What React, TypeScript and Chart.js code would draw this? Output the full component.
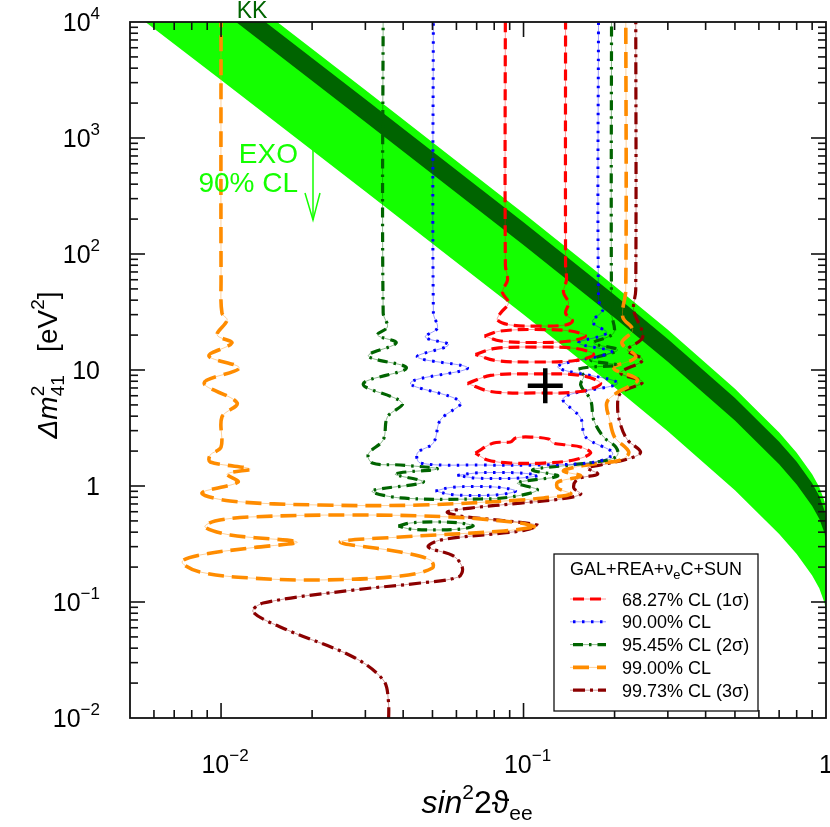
import React, { useEffect, useRef } from 'react';
import { Chart, registerables } from 'chart.js';

Chart.register(...registerables);

const FONT = '"Liberation Sans", Arial, Helvetica, sans-serif';

// ---------- axes ----------
const X_MIN = 0.005;
const X_MAX = 1;
const Y_MIN = 0.01;
const Y_MAX = 10000;

const xTickValues = [0.01, 0.1, 1];
const xTickBase = ['10', '10', '1'];
const xTickExp = ['\u22122', '\u22121', ''];
const yTickValues = [10000, 1000, 100, 10, 1, 0.1, 0.01];
const yTickBase = ['10', '10', '10', '10', '1', '10', '10'];
const yTickExp = ['4', '3', '2', '', '', '\u22121', '\u22122'];

// ---------- EXO and KK bands (log10 of Δm² at each sin²2θ) ----------
const bandSin2 = [0.005, 0.01, 0.03, 0.1, 0.2, 0.3, 0.5, 0.7, 0.8, 0.9, 0.95, 0.99, 1];
const exoUpperLog = [4.976, 4.374, 3.413, 2.352, 1.725, 1.346, 0.838, 0.461, 0.287, 0.102, -0.008, -0.136, -0.228];
const exoLowerLog = [4.102, 3.5, 2.539, 1.478, 0.851, 0.472, -0.036, -0.413, -0.587, -0.772, -0.882, -1.01, -1.102];
const kkUpperLog = [4.897, 4.295, 3.334, 2.273, 1.646, 1.267, 0.759, 0.382, 0.208, 0.023, -0.087, -0.215, -0.307];
const kkLowerLog = [4.702, 4.1, 3.139, 2.078, 1.451, 1.072, 0.564, 0.187, 0.013, -0.172, -0.282, -0.41, -0.502];

// ---------- contours: [log10 sin²2θ, log10 Δm²] ----------
const cl6827Main = [
  [-1.06, 4.3], [-1.06, 1.905], [-1.053, 1.776], [-1.07, 1.672], [-1.05, 1.578], [-1.076, 1.491], [-1.086, 1.431],
  [-1.043, 1.388], [-0.944, 1.379], [-0.861, 1.388], [-0.838, 1.422], [-0.861, 1.491], [-0.851, 1.578],
  [-0.868, 1.672], [-0.858, 1.776], [-0.861, 1.905], [-0.861, 4.3],
];
const cl6827Island1 = [[-1.129, 1.293], [-1.076, 1.336], [-0.96, 1.349], [-0.844, 1.336], [-0.795, 1.293], [-0.844, 1.25], [-0.96, 1.237], [-1.076, 1.25]];
const cl6827Island2 = [[-1.159, 1.134], [-1.093, 1.186], [-0.96, 1.198], [-0.828, 1.186], [-0.768, 1.134], [-0.828, 1.082], [-0.96, 1.069], [-1.093, 1.082]];
const cl6827Island3 = [[-1.185, 0.884], [-1.109, 0.953], [-0.96, 0.966], [-0.811, 0.953], [-0.745, 0.884], [-0.811, 0.815], [-0.96, 0.802], [-1.109, 0.815]];
const cl6827Island4 = [
  [-1.159, 0.284], [-1.099, 0.371], [-1.043, 0.379], [-1.026, 0.414], [-0.977, 0.422], [-0.917, 0.405], [-0.904, 0.371],
  [-0.854, 0.353], [-0.811, 0.336], [-0.778, 0.284], [-0.834, 0.224], [-0.934, 0.198], [-1.043, 0.198], [-1.119, 0.224],
];

const cl9000Main = [
  [-1.298, 4.3], [-1.298, 1.491], [-1.285, 1.362], [-1.325, 1.284], [-1.248, 1.216], [-1.351, 1.112], [-1.185, 1.017],
  [-1.374, 0.888], [-1.209, 0.724], [-1.275, 0.569], [-1.298, 0.371], [-1.351, 0.284], [-1.341, 0.198], [-1.142, 0.181],
  [-0.944, 0.181], [-0.762, 0.207], [-0.705, 0.284], [-0.795, 0.422], [-0.811, 0.586], [-0.868, 0.759], [-0.689, 0.888],
  [-0.887, 1.026], [-0.709, 1.155], [-0.818, 1.233], [-0.725, 1.319], [-0.772, 1.414], [-0.738, 1.517], [-0.752, 1.603],
  [-0.752, 4.3],
];
const cl9000Island1 = [[-1.219, 0.091], [-1.159, 0.112], [-1.086, 0.116], [-1.01, 0.112], [-0.954, 0.091], [-1.01, 0.069], [-1.086, 0.065], [-1.159, 0.069]];
const cl9000Island2 = [[-1.291, -0.043], [-1.242, -0.013], [-1.159, -0.004], [-1.076, -0.013], [-1.026, -0.043], [-1.076, -0.073], [-1.159, -0.082], [-1.242, -0.073]];

const cl9545Main = [
  [-1.464, 4.3], [-1.464, 1.491], [-1.45, 1.371], [-1.483, 1.302], [-1.421, 1.233], [-1.513, 1.121], [-1.387, 1.017],
  [-1.53, 0.879], [-1.401, 0.716], [-1.45, 0.595], [-1.464, 0.397], [-1.513, 0.276], [-1.5, 0.198], [-1.407, 0.181],
  [-1.285, 0.147], [-1.424, 0.103], [-1.331, 0.034], [-1.5, -0.043], [-1.407, -0.103], [-1.142, -0.112], [-1.043, -0.095],
  [-0.954, -0.034], [-1.02, 0.026], [-0.887, 0.086], [-0.97, 0.138], [-0.844, 0.181], [-0.722, 0.224], [-0.689, 0.267],
  [-0.695, 0.336], [-0.735, 0.422], [-0.768, 0.569], [-0.778, 0.741], [-0.811, 0.871], [-0.801, 0.948], [-0.818, 1.009],
  [-0.689, 1.043], [-0.778, 1.086], [-0.689, 1.172], [-0.768, 1.233], [-0.702, 1.319], [-0.709, 1.491], [-0.709, 4.3],
];
const cl9545Island1 = [[-1.414, -0.345], [-1.374, -0.319], [-1.291, -0.31], [-1.209, -0.319], [-1.166, -0.345], [-1.209, -0.371], [-1.291, -0.379], [-1.374, -0.371]];

const cl9900Main = [
  [-2.0, 4.3], [-2.0, 1.776], [-1.997, 1.491], [-1.98, 1.431], [-2.013, 1.302], [-1.964, 1.233], [-2.04, 1.121],
  [-1.94, 1.017], [-2.056, 0.888], [-1.947, 0.716], [-1.997, 0.595], [-2.0, 0.336], [-2.036, 0.267], [-2.036, 0.207],
  [-1.904, 0.147], [-1.98, 0.103], [-1.944, 0.034], [-2.063, -0.06], [-1.97, -0.129], [-1.672, -0.164], [-1.341, -0.164],
  [-1.01, -0.121], [-0.934, -0.103], [-0.844, -0.069], [-0.887, -0.017], [-0.887, 0.034], [-0.811, 0.086], [-0.868, 0.129],
  [-0.828, 0.164], [-0.745, 0.198], [-0.679, 0.224], [-0.652, 0.293], [-0.699, 0.422], [-0.715, 0.569], [-0.725, 0.716],
  [-0.692, 0.802], [-0.623, 0.914], [-0.702, 1.017], [-0.629, 1.112], [-0.675, 1.233], [-0.639, 1.345], [-0.672, 1.457],
  [-0.662, 1.69], [-0.662, 4.3],
];
const cl9900Island1 = [
  [-0.96, -0.353], [-1.01, -0.319], [-1.242, -0.267], [-1.573, -0.25], [-1.904, -0.267], [-2.02, -0.302], [-2.053, -0.353],
  [-1.97, -0.422], [-1.748, -0.483], [-1.904, -0.534], [-2.07, -0.595], [-2.129, -0.655], [-2.07, -0.741], [-1.904, -0.793],
  [-1.672, -0.81], [-1.407, -0.776], [-1.301, -0.707], [-1.308, -0.638], [-1.407, -0.569], [-1.606, -0.483], [-1.407, -0.44],
  [-1.066, -0.388],
];

const cl9973Main = [
  [-0.629, 4.3], [-0.629, 1.69], [-0.636, 1.517], [-0.606, 1.284], [-0.656, 1.172], [-0.606, 1.086], [-0.679, 0.974],
  [-0.606, 0.897], [-0.679, 0.802], [-0.689, 0.681], [-0.679, 0.526], [-0.656, 0.397], [-0.613, 0.293], [-0.646, 0.241],
  [-0.745, 0.181], [-0.788, 0.155], [-0.755, 0.103], [-0.821, 0.06], [-0.834, -0.017], [-0.811, -0.069], [-0.877, -0.112],
  [-1.01, -0.147], [-1.175, -0.19], [-1.252, -0.224], [-1.209, -0.259], [-0.954, -0.336], [-0.993, -0.379], [-1.066, -0.405],
  [-1.275, -0.466], [-1.315, -0.526], [-1.232, -0.603], [-1.202, -0.707], [-1.215, -0.784], [-1.341, -0.836], [-1.563, -0.897],
  [-1.861, -1.009], [-1.894, -1.086], [-1.781, -1.241], [-1.563, -1.474], [-1.464, -1.672], [-1.447, -1.845], [-1.447, -2.103],
];

// best fit point
const bestFitSin2 = 0.118;
const bestFitDm2 = 7.3;

// legend
const legendTitle = ['GAL+REA+\u03bd', 'e', 'C+SUN'];
const clLabels = ['68.27% CL (1\u03c3)', '90.00% CL', '95.45% CL (2\u03c3)', '99.00% CL', '99.73% CL (3\u03c3)'];

// styles
const LIGHT_GREEN = '#14ff00';
const DARK_GREEN = '#006400';
const clStyles = [
  { color: '#ff0000', ghost: 'rgba(255,0,0,0.4)', dash: [11, 6], width: 3.2 },
  { color: '#0000ff', ghost: 'rgba(0,0,255,0.4)', dash: [2.5, 6.5], width: 3 },
  { color: '#006400', ghost: 'rgba(0,100,0,0.45)', dash: [10, 6, 2.5, 6], width: 3.2 },
  { color: '#ff8c00', ghost: 'rgba(255,140,0,0.4)', dash: [16, 8], width: 3.6 },
  { color: '#8b0000', ghost: 'rgba(139,0,0,0.4)', dash: [12, 5, 3, 5], width: 3.2 },
];
const clPaths = [
  { main: cl6827Main, islands: [cl6827Island1, cl6827Island2, cl6827Island3, cl6827Island4] },
  { main: cl9000Main, islands: [cl9000Island1, cl9000Island2] },
  { main: cl9545Main, islands: [cl9545Island1] },
  { main: cl9900Main, islands: [cl9900Island1] },
  { main: cl9973Main, islands: [] as number[][][] },
];

const toPts = (arr: number[][], close = false) => {
  const r = arr.map(([lx, ly]) => ({ x: Math.pow(10, lx), y: Math.pow(10, ly) }));
  if (close) r.push({ ...r[0] });
  return r;
};
const bandPts = (logs: number[]) => bandSin2.map((x, i) => ({ x, y: Math.pow(10, logs[i]) }));

function buildDatasets() {
  const ds: any[] = [];
  const add = (d: any) =>
    ds.push({ pointRadius: 0, pointHoverRadius: 0, clip: 0, fill: false, tension: 0.35, borderCapStyle: 'butt', ...d });
  const tr = 'rgba(0,0,0,0)';
  add({ data: bandPts(exoUpperLog), borderColor: tr, borderWidth: 1, backgroundColor: LIGHT_GREEN, fill: '+1', tension: 0 });
  add({ data: bandPts(exoLowerLog), borderColor: tr, borderWidth: 1, tension: 0 });
  add({ data: bandPts(kkUpperLog), borderColor: tr, borderWidth: 1, backgroundColor: DARK_GREEN, fill: '+1', tension: 0 });
  add({ data: bandPts(kkLowerLog), borderColor: tr, borderWidth: 1, tension: 0 });
  for (let c = clPaths.length - 1; c >= 0; c--) {
    const st = clStyles[c];
    const paths = [{ p: clPaths[c].main, close: false }, ...clPaths[c].islands.map((p) => ({ p, close: true }))];
    for (const { p, close } of paths) {
      const data = toPts(p, close);
      add({ data, borderColor: st.ghost, borderWidth: 1 });
      add({ data, borderColor: st.color, borderWidth: st.width, borderDash: st.dash });
    }
  }
  add({
    data: [{ x: bestFitSin2, y: bestFitDm2 }],
    showLine: false,
    pointStyle: 'cross',
    pointRadius: 17.5,
    pointHoverRadius: 17.5,
    pointBorderWidth: 4.5,
    pointBorderColor: '#000',
    borderColor: '#000',
  });
  const n = ds.length;
  ds.forEach((d, i) => (d.order = n - i));
  return ds;
}

type Part = { t: string; size: number; italic?: boolean; dy?: number; adv?: boolean };
function drawParts(ctx: CanvasRenderingContext2D, parts: Part[], x: number, y: number, align: 'left' | 'center' | 'right') {
  const fontOf = (p: Part) => `${p.italic ? 'italic ' : ''}${p.size}px ${FONT}`;
  const widths = parts.map((p) => {
    ctx.font = fontOf(p);
    return ctx.measureText(p.t).width;
  });
  let total = 0;
  parts.forEach((p, i) => {
    if (p.adv !== false) total += widths[i];
  });
  let cx = align === 'left' ? x : align === 'center' ? x - total / 2 : x - total;
  ctx.textAlign = 'left';
  ctx.textBaseline = 'alphabetic';
  parts.forEach((p, i) => {
    ctx.font = fontOf(p);
    ctx.fillText(p.t, cx, y + (p.dy || 0));
    if (p.adv !== false) cx += widths[i];
  });
}

const decorPlugin = {
  id: 'decor',
  afterDraw(chart: any) {
    const { ctx, chartArea: a, scales } = chart;
    const xs = scales.x;
    const ys = scales.y;
    ctx.save();
    ctx.strokeStyle = '#111';
    ctx.lineWidth = 1.6;
    const line = (x1: number, y1: number, x2: number, y2: number) => {
      ctx.beginPath();
      ctx.moveTo(x1, y1);
      ctx.lineTo(x2, y2);
      ctx.stroke();
    };
    // ticks
    for (let e = -3; e <= 0; e++) {
      for (let k = 1; k <= 9; k++) {
        const v = k * Math.pow(10, e);
        if (v <= X_MIN * 1.001 || v >= X_MAX * 0.999) continue;
        const px = xs.getPixelForValue(v);
        const len = k === 1 ? 15 : 8;
        line(px, a.bottom, px, a.bottom - len);
        line(px, a.top, px, a.top + len);
      }
    }
    for (let e = -2; e <= 4; e++) {
      for (let k = 1; k <= 9; k++) {
        const v = k * Math.pow(10, e);
        if (v <= Y_MIN * 1.001 || v >= Y_MAX * 0.999) continue;
        const py = ys.getPixelForValue(v);
        const len = k === 1 ? 15 : 8;
        line(a.left, py, a.left + len, py);
        line(a.right, py, a.right - len, py);
      }
    }
    ctx.lineWidth = 1.8;
    ctx.strokeRect(a.left, a.top, a.right - a.left, a.bottom - a.top);

    // tick labels
    ctx.fillStyle = '#000';
    yTickValues.forEach((v, i) => {
      const py = ys.getPixelForValue(v);
      const parts: Part[] = [{ t: yTickBase[i], size: 25 }];
      if (yTickExp[i]) parts.push({ t: yTickExp[i], size: 17, dy: -12 });
      drawParts(ctx, parts, 100, py + 9, 'right');
    });
    xTickValues.forEach((v, i) => {
      const px = xs.getPixelForValue(v);
      const parts: Part[] = [{ t: xTickBase[i], size: 25 }];
      if (xTickExp[i]) parts.push({ t: xTickExp[i], size: 17, dy: -12 });
      drawParts(ctx, parts, px + (xTickExp[i] ? 4 : 0), 773, 'center');
    });

    // axis titles
    drawParts(
      ctx,
      [
        { t: 'sin', size: 32, italic: true },
        { t: '2', size: 21, dy: -14 },
        { t: '2\u03d1', size: 32 },
        { t: 'ee', size: 21, dy: 7 },
      ],
      477,
      813,
      'center'
    );
    ctx.save();
    ctx.translate(57, 365);
    ctx.rotate(-Math.PI / 2);
    drawParts(
      ctx,
      [
        { t: '\u0394m', size: 28, italic: true },
        { t: '2', size: 19, dy: -13, adv: false },
        { t: '41', size: 19, dy: 7 },
        { t: '   [eV', size: 28 },
        { t: '2', size: 19, dy: -13 },
        { t: ']', size: 28 },
      ],
      0,
      0,
      'center'
    );
    ctx.restore();

    // KK and EXO annotations
    ctx.fillStyle = DARK_GREEN;
    drawParts(ctx, [{ t: 'KK', size: 23 }], 252, 18, 'center');
    ctx.fillStyle = LIGHT_GREEN;
    drawParts(ctx, [{ t: 'EXO', size: 28 }], 298, 163, 'right');
    drawParts(ctx, [{ t: '90% CL', size: 28 }], 298, 192, 'right');
    ctx.strokeStyle = LIGHT_GREEN;
    ctx.lineWidth = 1.5;
    line(313, 150, 313, 220);
    ctx.beginPath();
    ctx.moveTo(305, 193);
    ctx.lineTo(313, 220);
    ctx.lineTo(320, 193);
    ctx.stroke();

    // legend
    const L = 554, T = 554, R = 758, B = 711;
    ctx.fillStyle = '#fff';
    ctx.fillRect(L, T, R - L, B - T);
    ctx.strokeStyle = '#111';
    ctx.lineWidth = 1.3;
    ctx.strokeRect(L, T, R - L, B - T);
    ctx.fillStyle = '#000';
    drawParts(
      ctx,
      [
        { t: legendTitle[0], size: 18 },
        { t: legendTitle[1], size: 13, dy: 4 },
        { t: legendTitle[2], size: 18 },
      ],
      (L + R) / 2,
      575,
      'center'
    );
    clLabels.forEach((lab, i) => {
      const y = 599 + i * 22.8;
      const st = clStyles[i];
      ctx.setLineDash([]);
      ctx.strokeStyle = st.ghost;
      ctx.lineWidth = 1;
      line(570, y, 606, y);
      ctx.setLineDash(st.dash);
      ctx.lineDashOffset = -3;
      ctx.strokeStyle = st.color;
      ctx.lineWidth = st.width;
      ctx.lineCap = 'butt';
      line(570, y, 606, y);
      ctx.setLineDash([]);
      ctx.fillStyle = '#000';
      drawParts(ctx, [{ t: lab, size: 18 }], 622, y + 6.5, 'left');
    });
    ctx.restore();
  },
};

export default function App() {
  const ref = useRef<HTMLCanvasElement>(null);
  useEffect(() => {
    const canvas = ref.current;
    if (!canvas) return;
    const chart = new Chart(canvas, {
      type: 'line',
      data: { datasets: buildDatasets() },
      options: {
        responsive: false,
        maintainAspectRatio: false,
        devicePixelRatio: 1,
        animation: false,
        events: [],
        layout: { autoPadding: false, padding: { left: 130, right: 4, top: 22, bottom: 109 } },
        elements: { line: { capBezierPoints: false } },
        scales: {
          x: { type: 'logarithmic', min: X_MIN, max: X_MAX, display: false },
          y: { type: 'logarithmic', min: Y_MIN, max: Y_MAX, display: false },
        },
        plugins: { legend: { display: false }, tooltip: { enabled: false } },
      } as any,
      plugins: [decorPlugin],
    });
    return () => chart.destroy();
  }, []);
  return (
    <div style={{ position: 'absolute', left: 0, top: 0, width: 830, height: 827, background: '#fff' }}>
      <canvas ref={ref} width={830} height={827} style={{ display: 'block', width: 830, height: 827 }} />
    </div>
  );
}
